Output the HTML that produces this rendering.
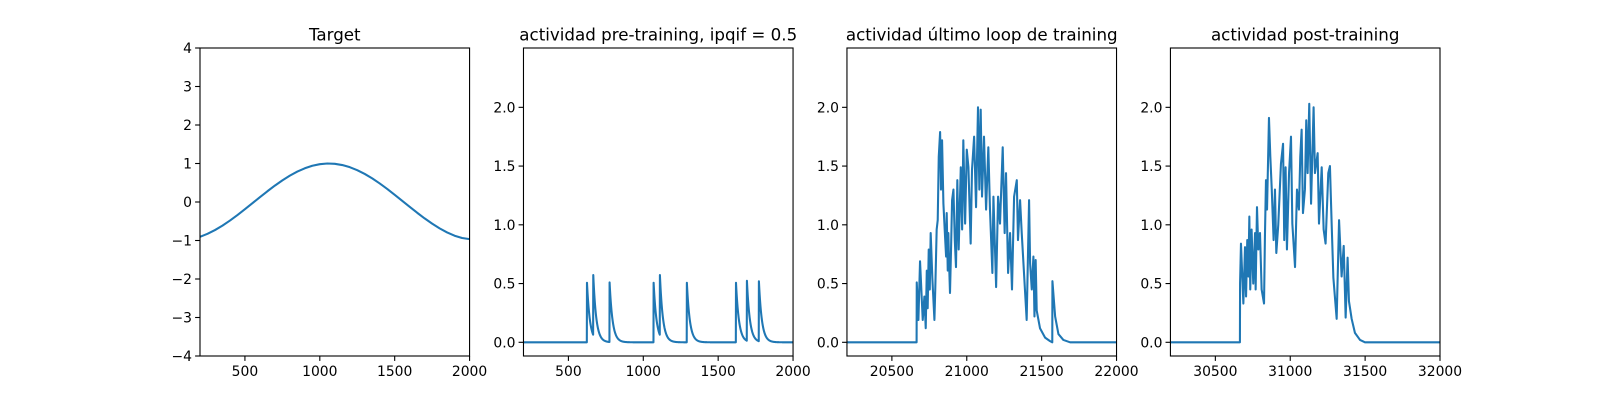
<!DOCTYPE html>
<html><head><meta charset="utf-8">
<style>
html,body{margin:0;padding:0;background:#fff;}
svg{display:block;font-family:"DejaVu Sans","Liberation Sans",sans-serif;}
</style></head>
<body>
<svg id="fig" width="1600" height="400" viewBox="0 0 1600 400" xmlns="http://www.w3.org/2000/svg"></svg>
<script>
// ---- Data ----
const targetT = [200,250,300,350,400,450,500,550,600,650,700,750,800,850,900,950,1000,1050,1100,1150,1200,1250,1300,1350,1400,1450,1500,1550,1600,1650,1700,1750,1800,1850,1900,1950,2000];
const targetV = [-0.905,-0.827,-0.729,-0.613,-0.482,-0.339,-0.187,-0.031,0.125,0.279,0.426,0.562,0.685,0.790,0.876,0.941,0.982,1.0,0.992,0.960,0.905,0.827,0.729,0.613,0.482,0.339,0.187,0.031,-0.125,-0.279,-0.426,-0.562,-0.685,-0.790,-0.876,-0.935,-0.965];

const preSpikeT = [624,666,775,1069,1111,1291,1619,1692,1772];
const preSpikeA = [0.507,0.51,0.507,0.507,0.51,0.507,0.507,0.51,0.51];

const lastT = [20200,20665,20666,20677,20688,20706,20717,20726,20733,20739,20746,20753,20759,20770,20784,20790,20799,20806,20813,20822,20828,20835,20844,20855,20862,20866,20873,20877,20882,20888,20895,20902,20911,20920,20928,20937,20946,20960,20969,20977,20989,21000,21011,21026,21035,21049,21062,21075,21084,21093,21102,21115,21129,21144,21155,21171,21178,21196,21209,21222,21240,21253,21262,21276,21289,21302,21316,21334,21342,21356,21367,21400,21416,21423,21434,21445,21452,21460,21467,21489,21523,21556,21571,21572,21590,21612,21645,21690,22000];
const lastV = [0,0,0.51,0.19,0.69,0.19,0.39,0.12,0.61,0.29,0.79,0.45,0.93,0.55,0.19,0.47,0.96,1.04,1.58,1.79,1.3,1.72,1.18,0.90,0.73,1.1,0.61,0.93,0.67,0.42,0.79,1.21,1.3,0.87,0.64,1.38,0.79,1.49,0.96,1.72,1.01,1.64,1.49,0.84,1.47,1.75,1.15,2.0,1.3,1.98,1.24,1.75,1.13,1.66,1.13,0.59,1.24,0.47,1.24,1.01,1.66,0.93,1.44,0.59,0.93,0.45,1.24,1.38,0.87,1.21,0.93,0.19,1.21,0.67,0.45,0.73,0.22,0.70,0.27,0.12,0.04,0.01,0.0,0.52,0.22,0.07,0.02,0,0];

const postT = [30200,30664,30665,30671,30687,30698,30705,30713,30720,30727,30733,30742,30753,30765,30769,30778,30787,30798,30809,30825,30831,30838,30845,30858,30867,30876,30889,30898,30907,30920,30938,30952,30960,30969,30978,30992,31005,31014,31032,31045,31058,31067,31076,31085,31098,31107,31116,31127,31139,31156,31165,31183,31192,31210,31223,31236,31254,31265,31277,31288,31310,31326,31343,31357,31370,31383,31392,31410,31432,31466,31499,32000];
const postV = [0,0,0.50,0.84,0.33,0.81,0.39,0.87,0.56,1.07,0.45,0.96,0.5,0.93,0.45,1.15,0.79,0.93,0.45,0.33,0.9,1.38,1.13,1.91,1.58,1.32,0.87,1.3,0.76,1.0,1.52,1.69,0.87,1.49,0.79,1.44,1.75,1.01,0.64,1.3,1.13,1.58,1.81,1.1,1.3,1.89,1.44,2.03,1.18,2.0,1.44,1.61,1.01,1.49,0.96,0.84,1.44,1.5,0.99,0.55,0.2,1.04,0.56,0.82,0.21,0.72,0.35,0.2,0.08,0.02,0,0];

const xTicks1 = [500,1000,1500,2000];
const xTicks3 = [20500,21000,21500,22000];
const xTicks4 = [30500,31000,31500,32000];
const yTicks1 = [-4,-3,-2,-1,0,1,2,3,4];
const yTicksAct = [0.0,0.5,1.0,1.5,2.0];

// ---- Drawing ----
const NS = "http://www.w3.org/2000/svg";
const svg = document.getElementById('fig');
const COLOR = "#1f77b4";
function mk(tag, attrs, parent){ const e=document.createElementNS(NS,tag); for(const k in attrs) e.setAttribute(k,attrs[k]); (parent||svg).appendChild(e); return e; }
function fmtNum(v, dec){ const s = Math.abs(v).toFixed(dec); return (v<0?"\u2212":"")+s; }

const AW = 269.57, TOP = 48, BOT = 356;
const lefts = [200, 523.48, 846.96, 1170.43];

function panel(idx, title, xmin, xmax, ymin, ymax, xticks, yticks, ydec, xs, ys, name){
  const L = lefts[idx];
  const g = mk('g', {});
  
  
  const sx = t => L + (t - xmin) / (xmax - xmin) * AW;
  const sy = v => BOT - (v - ymin) / (ymax - ymin) * (BOT - TOP);
  const cid = 'clip'+idx;
  const cp = mk('clipPath', {id:cid}, g);
  mk('rect', {x:L, y:TOP, width:AW, height:BOT-TOP}, cp);
  let d = '';
  for (let i=0;i<xs.length;i++) d += (i?'L':'M') + sx(xs[i]).toFixed(2) + ' ' + sy(ys[i]).toFixed(2);
  const p = mk('path', {d:d, fill:'none', stroke:COLOR, 'stroke-width':2.08, 'stroke-linejoin':'round', 'clip-path':'url(#'+cid+')'}, g);
  
  
  const fr = mk('rect', {x:L, y:TOP, width:AW, height:BOT-TOP, fill:'none', stroke:'#000', 'stroke-width':1.1}, g);
  
  
  xticks.forEach(t => {
    const x = sx(t);
    mk('line', {x1:x, y1:BOT, x2:x, y2:BOT+4.9, stroke:'#000', 'stroke-width':1.1}, g);
    const tx = mk('text', {x:x, y:BOT+20, 'font-size':13.9, 'text-anchor':'middle', fill:'#000'}, g);
    tx.textContent = String(t);
    
    
  });
  yticks.forEach(v => {
    const y = sy(v);
    mk('line', {x1:L-4.9, y1:y, x2:L, y2:y, stroke:'#000', 'stroke-width':1.1}, g);
    const tx = mk('text', {x:L-8, y:y+5, 'font-size':13.9, 'text-anchor':'end', fill:'#000'}, g);
    tx.textContent = fmtNum(v, ydec);
    
    
  });
  const tt = mk('text', {x:L+AW/2, y:TOP-7.5, 'font-size':16.7, 'text-anchor':'middle', fill:'#000'}, g);
  tt.textContent = title;
  
  
}

const preT = [], preV = [];
for (let t=200; t<=2000; t+=1){
  let v = 0;
  for (let k=0;k<preSpikeT.length;k++){ const dt = t - preSpikeT[k]; if (dt>=0) v += preSpikeA[k]*Math.exp(-dt/20); }
  preT.push(t); preV.push(v);
}

const YMIN = -0.1166, YMAX = 2.505;
panel(0, 'Target', 200, 2000, -4, 4, xTicks1, yTicks1, 0, targetT, targetV, 'target-panel');
panel(1, 'actividad pre-training, ipqif = 0.5', 200, 2000, YMIN, YMAX, xTicks1, yTicksAct, 1, preT, preV, 'pre-training-panel');
panel(2, 'actividad último loop de training', 20200, 22000, YMIN, YMAX, xTicks3, yTicksAct, 1, lastT, lastV, 'last-loop-panel');
panel(3, 'actividad post-training', 30200, 32000, YMIN, YMAX, xTicks4, yTicksAct, 1, postT, postV, 'post-training-panel');
</script>
</body></html>
